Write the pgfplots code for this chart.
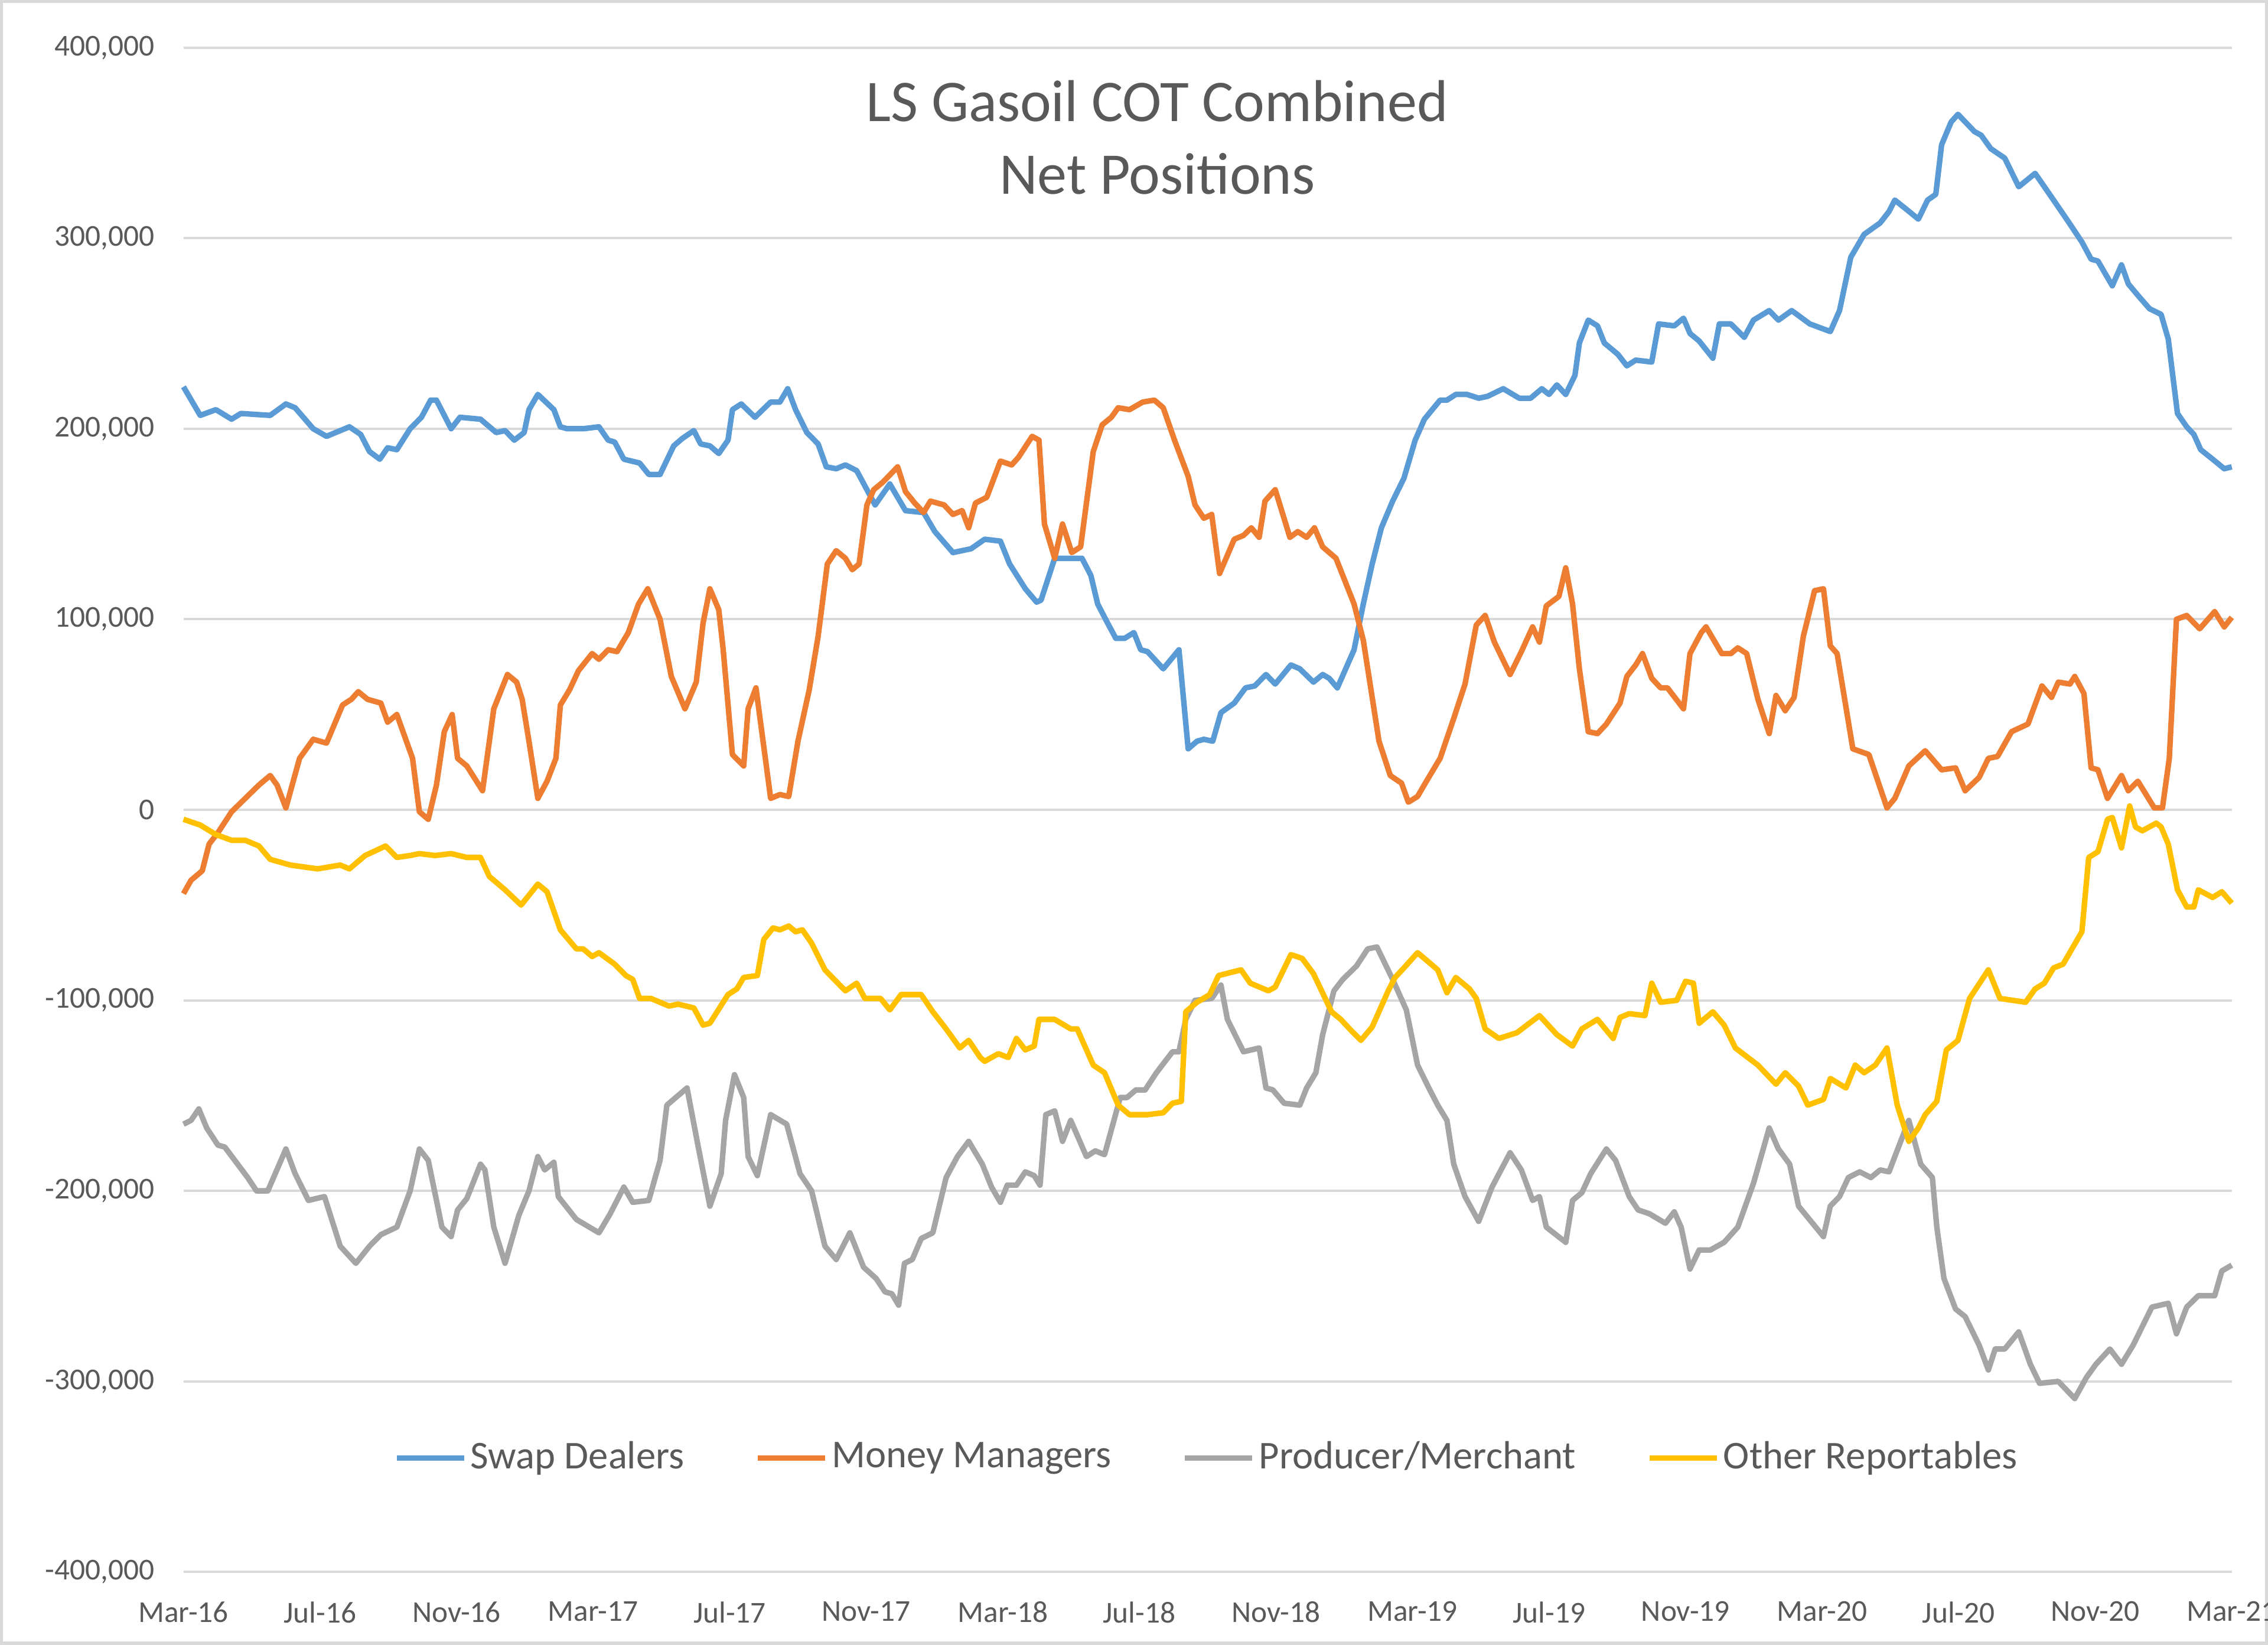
\documentclass[border=0pt]{standalone}
\usepackage{pgfplots}
\pgfplotsset{compat=1.18}
\usepackage{fontspec}
\setmainfont{Carlito}
\definecolor{sdblue}{HTML}{5B9BD5}
\definecolor{mmorange}{HTML}{ED7D31}
\definecolor{pmgray}{HTML}{A5A5A5}
\definecolor{oryellow}{HTML}{FFC000}
\definecolor{txtgray}{HTML}{595959}
\definecolor{gridgray}{HTML}{D9D9D9}
\begin{document}
\begin{tikzpicture}
\path[use as bounding box] (0,0) rectangle (576pt,417.7pt);
\draw[gridgray, line width=0.8pt] (0.4pt,0.4pt) rectangle (575.6pt,417.3pt);
\begin{axis}[
  at={(46.6pt,18.5pt)}, anchor=south west,
  width=520.2pt, height=387.1pt, scale only axis,
  xmin=0, xmax=60, ymin=-400, ymax=400,
  xtick={0,4,...,60},
  xticklabels={Mar-16,Jul-16,Nov-16,Mar-17,Jul-17,Nov-17,Mar-18,Jul-18,Nov-18,Mar-19,Jul-19,Nov-19,Mar-20,Jul-20,Nov-20,Mar-21},
  ytick={-400,-300,...,400},
  yticklabels={{-400,000},{-300,000},{-200,000},{-100,000},0,{100,000},{200,000},{300,000},{400,000}},
  ymajorgrids, major grid style={gridgray, line width=0.6pt},
  axis line style={draw=none},
  major tick length=0pt,
  tick label style={font=\fontsize{7.7}{9.2}\selectfont, text=txtgray},
  yticklabel style={xshift=-3.9pt},
  xticklabel style={yshift=-4pt},
  clip=false,
  legend columns=4,
  legend style={at={(0.5,0.0747)}, anchor=center, draw=none, fill=none,
    font=\fontsize{10}{12}\selectfont, text=txtgray,
    nodes={inner xsep=1pt},
    /tikz/every even column/.append style={column sep=17pt}},
  every axis plot/.append style={line width=1.4pt, line join=round},
]
\addplot[sdblue] coordinates {
(0,222) (0.49,207) (0.95,210) (1.41,205) (1.68,208) (2.54,207) (3.0,213) (3.27,211) (3.8,200) (4.19,196) (4.86,201) (5.19,197) (5.45,188) (5.75,184) (5.98,190) (6.25,189) (6.64,200) (6.97,206) (7.24,215) (7.41,215) (7.84,200) (8.1,206) (8.7,205) (9.16,198) (9.42,199) (9.69,194) (9.98,198) (10.12,210) (10.38,218) (10.85,210) (11.04,201) (11.24,200) (11.71,200) (12.17,201) (12.44,194) (12.63,193) (12.9,184) (13.36,182) (13.63,176) (13.96,176) (14.36,191) (14.62,195) (14.95,199) (15.15,192) (15.42,191) (15.68,187) (15.95,194) (16.08,210) (16.34,213) (16.74,206) (17.2,214) (17.47,214) (17.7,221) (17.93,210) (18.26,198) (18.59,192) (18.83,180) (19.12,179) (19.39,181) (19.72,178) (20.02,168) (20.26,160) (20.69,171) (21.15,157) (21.68,156) (22.01,146) (22.54,135) (23.07,137) (23.47,142) (23.93,141) (24.2,129) (24.66,116) (24.99,109) (25.12,110) (25.52,132) (25.99,132) (26.32,132) (26.58,123) (26.78,108) (27.04,99) (27.31,90) (27.57,90) (27.84,93) (28.04,84) (28.24,83) (28.7,74) (29.16,84) (29.43,32) (29.69,36) (29.89,37) (30.15,36) (30.39,51) (30.78,56) (31.11,64) (31.38,65) (31.71,71) (31.98,66) (32.44,76) (32.7,74) (33.1,67) (33.37,71) (33.56,69) (33.8,64) (34.29,84) (34.56,108) (34.82,129) (35.09,148) (35.42,162) (35.75,174) (36.08,194) (36.35,205) (36.81,215) (37.01,215) (37.27,218) (37.6,218) (37.94,216) (38.2,217) (38.66,221) (39.13,216) (39.46,216) (39.79,221) (40.0,218) (40.23,223) (40.49,218) (40.76,228) (40.89,245) (41.15,257) (41.42,254) (41.62,245) (42.02,239) (42.28,233) (42.54,236) (43.01,235) (43.21,255) (43.67,254) (43.94,258) (44.13,250) (44.4,246) (44.8,237) (44.99,255) (45.33,255) (45.72,248) (45.99,257) (46.45,262) (46.72,257) (47.11,262) (47.64,255) (48.24,251) (48.51,262) (48.84,290) (49.23,302) (49.7,308) (49.96,314) (50.13,320) (50.48,315) (50.82,310) (51.09,320) (51.33,323) (51.5,349) (51.78,361) (51.98,365) (52.46,356) (52.66,354) (52.94,347) (53.35,342) (53.76,327) (54.24,334) (54.78,320) (55.2,309) (55.61,298) (55.88,289) (56.08,288) (56.5,275) (56.77,286) (56.97,276) (57.25,270) (57.59,263) (57.93,260) (58.14,247) (58.41,208) (58.68,201) (58.89,197) (59.09,189) (59.44,184) (59.78,179) (60,180)
};
\addlegendentry{Swap Dealers}
\addplot[mmorange] coordinates {
(0,-44) (0.22,-37) (0.55,-32) (0.75,-18) (1.01,-12) (1.41,-1) (1.81,6) (2.21,13) (2.54,18) (2.74,13) (3.0,1) (3.4,27) (3.8,37) (4.19,35) (4.66,55) (4.92,58) (5.12,62) (5.39,58) (5.78,56) (5.98,46) (6.25,50) (6.71,27) (6.91,-1) (7.17,-5) (7.41,13) (7.64,41) (7.87,50) (8.03,27) (8.3,23) (8.76,10) (9.09,53) (9.49,71) (9.76,67) (9.92,58) (10.12,36) (10.38,6) (10.65,15) (10.91,27) (11.04,55) (11.31,63) (11.57,73) (11.97,82) (12.17,79) (12.44,84) (12.7,83) (13.03,93) (13.33,108) (13.6,116) (13.96,100) (14.29,70) (14.69,53) (15.02,67) (15.22,98) (15.42,116) (15.68,105) (15.81,84) (16.08,29) (16.41,23) (16.54,53) (16.77,64) (16.94,41) (17.2,6) (17.47,8) (17.73,7) (18.0,36) (18.33,63) (18.59,91) (18.86,129) (19.12,136) (19.39,132) (19.59,126) (19.79,129) (20.02,160) (20.22,168) (20.49,172) (20.92,180) (21.15,167) (21.42,161) (21.68,156) (21.88,162) (22.28,160) (22.54,155) (22.81,157) (23.0,148) (23.2,161) (23.53,164) (23.93,183) (24.26,181) (24.46,185) (24.86,196) (25.06,194) (25.22,150) (25.52,132) (25.75,150) (26.02,135) (26.28,138) (26.65,188) (26.91,202) (27.18,206) (27.38,211) (27.71,210) (28.1,214) (28.44,215) (28.7,211) (29.03,194) (29.43,175) (29.63,160) (29.89,153) (30.12,155) (30.35,124) (30.78,142) (31.05,144) (31.28,148) (31.51,143) (31.68,162) (31.98,168) (32.41,143) (32.64,146) (32.9,143) (33.13,148) (33.37,138) (33.76,132) (34.29,108) (34.56,89) (35.02,36) (35.35,18) (35.68,14) (35.88,4) (36.15,7) (36.41,15) (36.81,27) (37.21,48) (37.54,66) (37.87,97) (38.13,102) (38.4,88) (38.86,71) (39.19,83) (39.52,96) (39.72,88) (39.92,107) (40.29,112) (40.49,127) (40.69,108) (40.89,74) (41.15,41) (41.42,40) (41.68,45) (42.08,56) (42.28,70) (42.54,76) (42.74,82) (43.01,69) (43.27,64) (43.47,64) (43.94,53) (44.13,82) (44.46,93) (44.6,96) (45.06,82) (45.33,82) (45.53,85) (45.79,82) (46.12,58) (46.45,40) (46.65,60) (46.92,52) (47.18,59) (47.45,91) (47.78,115) (48.04,116) (48.24,86) (48.44,82) (48.9,32) (49.37,29) (49.9,1) (50.13,6) (50.54,23) (51.02,31) (51.5,21) (51.91,22) (52.19,10) (52.6,17) (52.87,27) (53.14,28) (53.55,41) (54.03,45) (54.44,65) (54.72,59) (54.92,67) (55.26,66) (55.4,70) (55.67,61) (55.88,22) (56.08,21) (56.36,6) (56.77,18) (56.97,10) (57.25,15) (57.73,1) (57.97,1) (58.17,27) (58.38,100) (58.68,102) (59.06,95) (59.5,104) (59.78,96) (60,101)
};
\addlegendentry{Money Managers}
\addplot[pmgray] coordinates {
(0,-165) (0.22,-163) (0.45,-157) (0.68,-167) (1.01,-176) (1.21,-177) (1.88,-193) (2.14,-200) (2.47,-200) (3.0,-178) (3.27,-191) (3.66,-205) (4.13,-203) (4.59,-229) (5.05,-238) (5.45,-229) (5.78,-223) (6.25,-219) (6.64,-200) (6.91,-178) (7.17,-184) (7.57,-219) (7.84,-224) (8.03,-210) (8.3,-204) (8.7,-186) (8.83,-189) (9.09,-219) (9.42,-238) (9.82,-213) (10.12,-200) (10.38,-182) (10.58,-189) (10.85,-185) (10.98,-203) (11.51,-215) (12.17,-222) (12.5,-212) (12.9,-198) (13.16,-206) (13.63,-205) (13.96,-184) (14.16,-155) (14.75,-146) (15.08,-177) (15.42,-208) (15.75,-191) (15.88,-163) (16.14,-139) (16.41,-151) (16.54,-182) (16.81,-192) (17.2,-160) (17.67,-165) (18.06,-191) (18.4,-200) (18.79,-229) (19.12,-236) (19.52,-222) (19.92,-240) (20.29,-246) (20.55,-253) (20.75,-254) (20.95,-260) (21.12,-238) (21.35,-236) (21.61,-225) (21.95,-222) (22.34,-193) (22.67,-182) (23.0,-174) (23.4,-186) (23.67,-198) (23.93,-206) (24.13,-197) (24.4,-197) (24.66,-190) (24.92,-192) (25.09,-197) (25.26,-160) (25.52,-158) (25.75,-174) (25.99,-163) (26.45,-182) (26.71,-179) (26.98,-181) (27.44,-151) (27.64,-151) (27.9,-147) (28.17,-147) (28.5,-138) (28.97,-127) (29.16,-127) (29.36,-110) (29.63,-100) (30.12,-99) (30.39,-92) (30.58,-110) (31.05,-127) (31.51,-125) (31.71,-146) (31.91,-147) (32.24,-154) (32.7,-155) (32.9,-146) (33.17,-138) (33.37,-118) (33.7,-95) (33.96,-89) (34.36,-82) (34.69,-73) (34.96,-72) (35.42,-89) (35.82,-105) (36.15,-134) (36.48,-146) (36.74,-155) (37.01,-163) (37.21,-186) (37.54,-203) (37.94,-216) (38.33,-198) (38.86,-180) (39.19,-189) (39.52,-205) (39.72,-203) (39.92,-219) (40.49,-227) (40.69,-205) (40.96,-201) (41.22,-191) (41.68,-178) (41.95,-184) (42.35,-203) (42.61,-210) (42.94,-212) (43.41,-217) (43.67,-211) (43.87,-219) (44.13,-241) (44.4,-231) (44.73,-231) (45.13,-227) (45.53,-219) (45.99,-196) (46.45,-167) (46.72,-178) (47.05,-186) (47.31,-208) (48.04,-224) (48.24,-208) (48.51,-203) (48.77,-193) (49.1,-190) (49.43,-193) (49.7,-189) (49.96,-190) (50.13,-182) (50.54,-163) (50.89,-186) (51.23,-193) (51.36,-219) (51.57,-246) (51.91,-262) (52.19,-266) (52.6,-281) (52.87,-294) (53.07,-283) (53.35,-283) (53.76,-274) (54.1,-291) (54.37,-301) (54.92,-300) (55.4,-309) (55.74,-298) (56.02,-291) (56.43,-283) (56.77,-291) (57.11,-281) (57.66,-261) (58.14,-259) (58.38,-275) (58.68,-261) (59.02,-255) (59.5,-255) (59.71,-242) (60,-239)
};
\addlegendentry{Producer/Merchant}
\addplot[oryellow] coordinates {
(0,-5) (0.49,-8) (0.95,-13) (1.41,-16) (1.81,-16) (2.21,-19) (2.54,-26) (3.13,-29) (3.93,-31) (4.59,-29) (4.86,-31) (5.32,-24) (5.92,-19) (6.25,-25) (6.64,-24) (6.91,-23) (7.37,-24) (7.84,-23) (8.3,-25) (8.7,-25) (8.96,-35) (9.42,-42) (9.89,-50) (10.38,-39) (10.65,-43) (11.04,-63) (11.51,-73) (11.71,-73) (11.97,-77) (12.17,-75) (12.63,-81) (12.96,-87) (13.16,-89) (13.36,-99) (13.69,-99) (14.22,-103) (14.49,-102) (14.95,-104) (15.22,-113) (15.42,-112) (15.95,-97) (16.21,-94) (16.41,-88) (16.81,-87) (17.0,-68) (17.27,-62) (17.47,-63) (17.73,-61) (17.93,-64) (18.13,-63) (18.4,-70) (18.79,-84) (19.06,-89) (19.39,-95) (19.72,-91) (19.96,-99) (20.42,-99) (20.69,-105) (21.02,-97) (21.61,-97) (21.95,-106) (22.34,-115) (22.74,-125) (23.0,-121) (23.34,-130) (23.47,-132) (23.87,-128) (24.16,-130) (24.4,-120) (24.66,-126) (24.92,-124) (25.06,-110) (25.52,-110) (25.99,-115) (26.18,-115) (26.65,-134) (26.98,-138) (27.38,-155) (27.71,-160) (28.24,-160) (28.7,-159) (28.97,-154) (29.23,-153) (29.36,-106) (29.69,-101) (30.06,-97) (30.32,-87) (30.98,-84) (31.25,-91) (31.78,-95) (31.98,-93) (32.44,-76) (32.77,-78) (33.1,-86) (33.63,-106) (33.9,-110) (34.16,-115) (34.49,-121) (34.82,-114) (35.29,-95) (35.49,-88) (35.75,-83) (36.15,-75) (36.48,-80) (36.74,-84) (37.01,-96) (37.27,-88) (37.67,-94) (37.87,-99) (38.13,-115) (38.53,-120) (39.06,-117) (39.72,-108) (40.23,-118) (40.69,-124) (40.96,-115) (41.42,-110) (41.88,-120) (42.08,-109) (42.35,-107) (42.81,-108) (43.01,-91) (43.27,-101) (43.74,-100) (44.0,-90) (44.23,-91) (44.4,-112) (44.8,-106) (45.13,-113) (45.46,-125) (46.12,-134) (46.65,-144) (46.92,-138) (47.31,-145) (47.58,-155) (48.04,-152) (48.24,-141) (48.7,-146) (48.97,-134) (49.23,-138) (49.56,-134) (49.9,-125) (50.2,-155) (50.54,-174) (50.82,-167) (51.02,-160) (51.36,-153) (51.64,-126) (51.98,-121) (52.32,-99) (52.87,-84) (53.21,-99) (53.96,-101) (54.24,-94) (54.51,-91) (54.78,-83) (55.06,-81) (55.61,-64) (55.81,-25) (56.08,-22) (56.36,-5) (56.5,-4) (56.77,-20) (57.01,2) (57.18,-9) (57.38,-11) (57.79,-7) (57.93,-9) (58.14,-18) (58.41,-42) (58.68,-51) (58.89,-51) (59.02,-42) (59.44,-46) (59.71,-43) (60,-49)
};
\addlegendentry{Other Reportables}
\end{axis}
\node[text=txtgray, font=\fontsize{15}{18}\selectfont] at (293.9pt,392pt) {LS Gasoil COT Combined};
\node[text=txtgray, font=\fontsize{15}{18}\selectfont] at (293.9pt,373.6pt) {Net Positions};
\end{tikzpicture}
\end{document}
